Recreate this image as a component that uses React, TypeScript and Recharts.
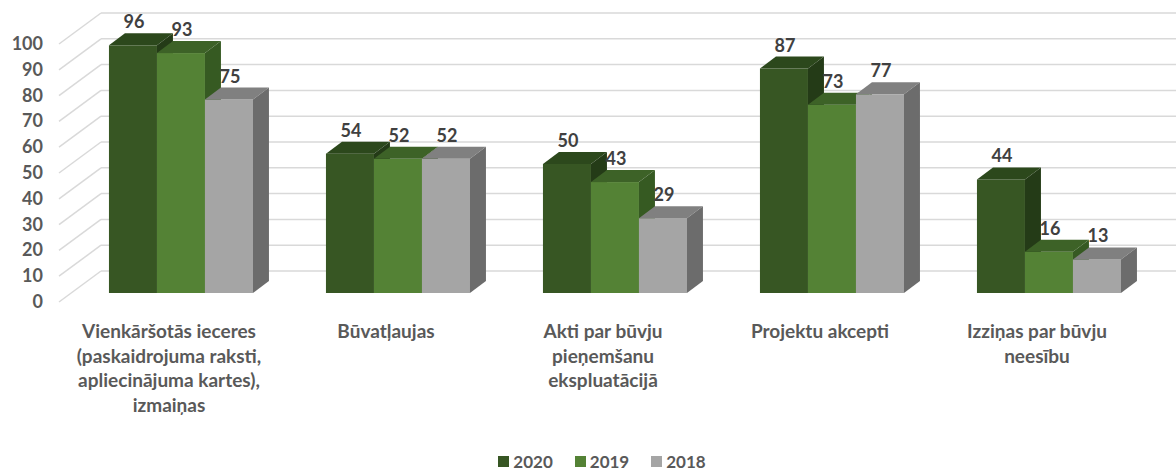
import { Bar, BarChart, CartesianGrid, LabelList, Legend, XAxis, YAxis } from "recharts";

const categories = [
  "Vienkāršotās ieceres\n(paskaidrojuma raksti,\napliecinājuma kartes),\nizmaiņas",
  "Būvatļaujas",
  "Akti par būvju\npieņemšanu\nekspluatācijā",
  "Projektu akcepti",
  "Izziņas par būvju\nneesību",
];
const values2020 = [96, 54, 50, 87, 44];
const values2019 = [93, 52, 43, 73, 16];
const values2018 = [75, 52, 29, 77, 13];
const yTicks = [0, 10, 20, 30, 40, 50, 60, 70, 80, 90, 100];

const data = categories.map((name, i) => ({
  name,
  y2020: values2020[i],
  y2019: values2019[i],
  y2018: values2018[i],
}));

const series = [
  { key: "y2020", label: "2020", front: "#375623", top: "#2c481c", side: "#243b17" },
  { key: "y2019", label: "2019", front: "#548235", top: "#3d6227", side: "#365a22" },
  { key: "y2018", label: "2018", front: "#a5a5a5", top: "#808080", side: "#6c6c6c" },
];

const FONT = "Lato, 'Noto Sans', sans-serif";
const BAR_DX = 16;
const BAR_DY = 12;
const WALL_DX = 42;
const WALL_DY = 31;
const FRONT_X = 59;

function Bar3D(props: any) {
  const { x, y, width, height, front, top, side } = props;
  if (!width || height == null) return null;
  const r = x + width;
  const b = y + height;
  return (
    <g>
      <rect x={x} y={y} width={width} height={height} fill={front} />
      <polygon
        points={`${x},${y} ${r},${y} ${r + BAR_DX},${y - BAR_DY} ${x + BAR_DX},${y - BAR_DY}`}
        fill={top}
      />
      <polygon
        points={`${r},${y} ${r + BAR_DX},${y - BAR_DY} ${r + BAR_DX},${b - BAR_DY} ${r},${b}`}
        fill={side}
      />
    </g>
  );
}

function GridLine(props: any) {
  const { y1, index } = props;
  const frontY = y1 + 9;
  const backY = frontY - WALL_DY;
  const backX = FRONT_X + WALL_DX;
  return (
    <g key={`grid-${index}`}>
      <line x1={backX} y1={backY} x2={1176} y2={backY} stroke="#d9d9d9" strokeWidth={1.5} />
      <line x1={FRONT_X} y1={frontY} x2={backX} y2={backY} stroke="#d9d9d9" strokeWidth={1.5} />
    </g>
  );
}

function YTick(props: any) {
  const { y, payload } = props;
  return (
    <text
      x={43}
      y={y + 15}
      textAnchor="end"
      fill="#595959"
      fontSize={18}
      fontWeight={700}
      fontFamily={FONT}
    >
      {payload.value}
    </text>
  );
}

function XTick(props: any) {
  const { x, payload } = props;
  const lines = String(payload.value).split("\n");
  return (
    <text
      textAnchor="middle"
      fill="#595959"
      fontSize={19}
      fontWeight={700}
      fontFamily={FONT}
    >
      {lines.map((line, i) => (
        <tspan key={i} x={x - 12} y={338 + i * 24.5}>
          {line}
        </tspan>
      ))}
    </text>
  );
}

function ValueLabel(props: any) {
  const { x, y, width, value } = props;
  return (
    <text
      x={x + width / 2 + 1}
      y={y - 17}
      textAnchor="middle"
      fill="#404040"
      fontSize={18}
      fontWeight={700}
      fontFamily={FONT}
    >
      {value}
    </text>
  );
}

function LegendContent() {
  return (
    <div
      style={{
        display: "flex",
        justifyContent: "center",
        gap: 22,
        fontFamily: FONT,
        fontWeight: 700,
        fontSize: 17,
        color: "#595959",
      }}
    >
      {series.map((s) => (
        <div key={s.key} style={{ display: "flex", alignItems: "center", gap: 4 }}>
          <span style={{ width: 11, height: 11, background: s.front, display: "inline-block" }} />
          <span>{s.label}</span>
        </div>
      ))}
    </div>
  );
}

export default function App() {
  return (
    <div style={{ position: "absolute", left: 0, top: 0, background: "#fff" }}>
      <BarChart
        width={1176}
        height={470}
        data={data}
        margin={{ top: 35, right: 18.5, left: 0, bottom: 0 }}
        barCategoryGap="16.8%"
        barGap={0}
      >
        <CartesianGrid vertical={false} horizontal={GridLine} />
        <XAxis
          dataKey="name"
          height={177}
          axisLine={false}
          tickLine={false}
          interval={0}
          tick={XTick}
        />
        <YAxis
          width={72.5}
          domain={[0, 100]}
          ticks={yTicks}
          axisLine={false}
          tickLine={false}
          tick={YTick}
        />
        <Legend
          layout="horizontal"
          verticalAlign="middle"
          align="center"
          wrapperStyle={{ top: 451, left: 14, width: 1176 }}
          content={LegendContent}
        />
        {series.map((s) => (
          <Bar
            key={s.key}
            dataKey={s.key}
            name={s.label}
            fill={s.front}
            isAnimationActive={false}
            shape={(p: any) => <Bar3D {...p} front={s.front} top={s.top} side={s.side} />}
          >
            <LabelList dataKey={s.key} content={ValueLabel} />
          </Bar>
        ))}
      </BarChart>
    </div>
  );
}
